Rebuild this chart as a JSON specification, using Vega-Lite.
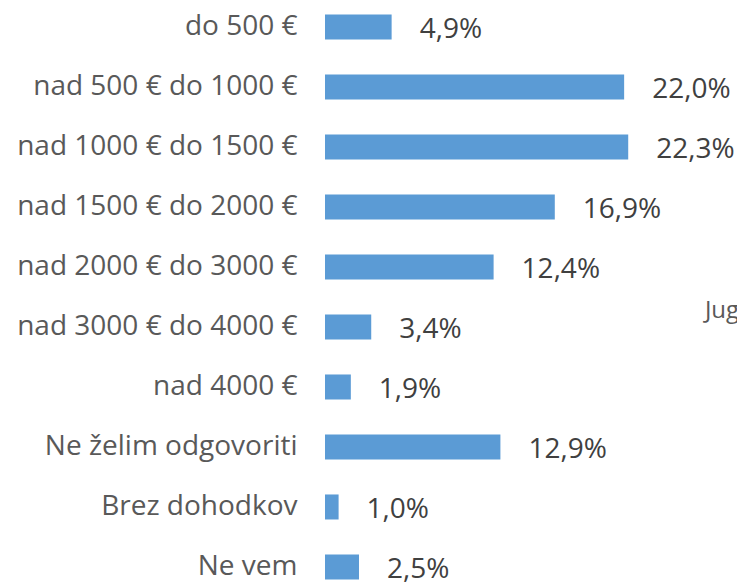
{
  "$schema": "https://vega.github.io/schema/vega-lite/v6.json",
  "autosize": {"type": "none"},
  "padding": {"left": 325, "top": 0, "right": 0, "bottom": 0},
  "width": 412,
  "height": 594,
  "background": "white",
  "config": {"view": {"stroke": null}, "font": "Open Sans"},
  "datasets": {
    "bars": [
      {"cat": "do 500 €", "v": 4.9, "label": "4,9%"},
      {"cat": "nad 500 € do 1000 €", "v": 22.0, "label": "22,0%"},
      {"cat": "nad 1000 € do 1500 €", "v": 22.3, "label": "22,3%"},
      {"cat": "nad 1500 € do 2000 €", "v": 16.9, "label": "16,9%"},
      {"cat": "nad 2000 € do 3000 €", "v": 12.4, "label": "12,4%"},
      {"cat": "nad 3000 € do 4000 €", "v": 3.4, "label": "3,4%"},
      {"cat": "nad 4000 €", "v": 1.9, "label": "1,9%"},
      {"cat": "Ne želim odgovoriti", "v": 12.9, "label": "12,9%"},
      {"cat": "Brez dohodkov", "v": 1.0, "label": "1,0%"},
      {"cat": "Ne vem", "v": 2.5, "label": "2,5%"}
    ],
    "note": [{"t": "Jug"}]
  },
  "layer": [
    {
      "data": {"name": "bars"},
      "encoding": {
        "y": {
          "field": "cat", "type": "nominal", "sort": null,
          "scale": {"paddingInner": 0.583, "paddingOuter": 0.242},
          "axis": {"title": null, "domain": false, "ticks": false, "labelPadding": 28,
                   "labelFontSize": 28, "labelColor": "#595959", "labelFont": "Open Sans", "labelLimit": 400}
        },
        "x": {
          "field": "v", "type": "quantitative",
          "scale": {"domain": [0, 30.3], "nice": false, "zero": true},
          "axis": null
        }
      },
      "layer": [
        {"mark": {"type": "bar", "color": "#5b9bd5"}},
        {"mark": {"type": "text", "align": "left", "baseline": "middle", "dx": 28, "dy": 3,
                  "fontSize": 28, "color": "#404040", "font": "Open Sans"},
         "encoding": {"text": {"field": "label"}}}
      ]
    },
    {
      "data": {"name": "note"},
      "mark": {"type": "text", "align": "left", "baseline": "middle", "dy": -16,
               "fontSize": 24, "color": "#595959", "font": "Open Sans"},
      "encoding": {
        "text": {"field": "t"},
        "x": {"datum": 27.94},
        "y": {"datum": "nad 3000 € do 4000 €"}
      }
    }
  ]
}
